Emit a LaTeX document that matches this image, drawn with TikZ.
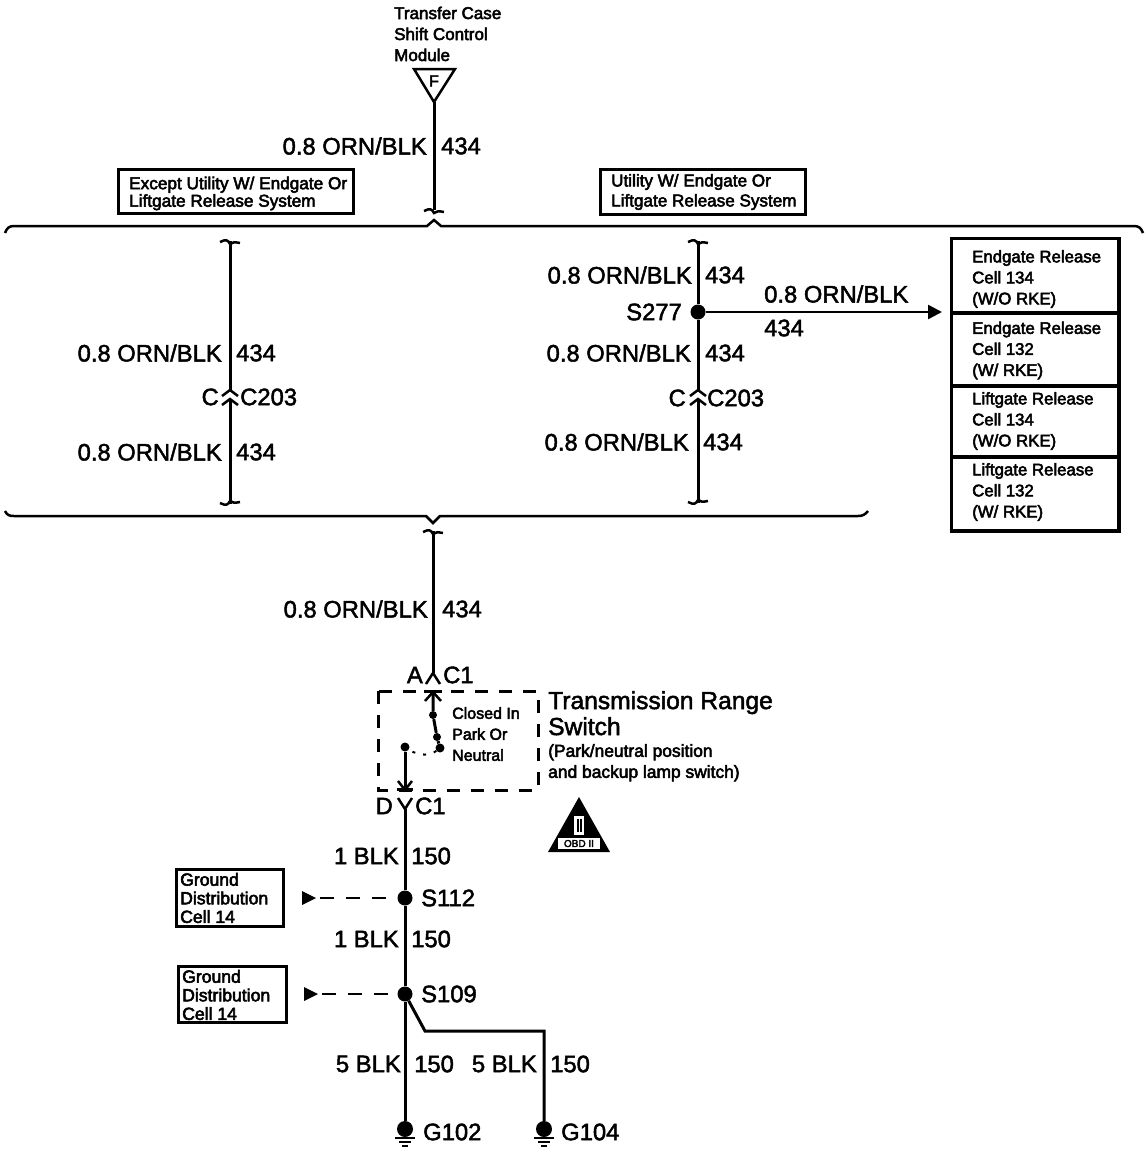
\documentclass[tikz,border=0pt]{standalone}
\usepackage{fontspec}
\setmainfont{Liberation Sans}
\newfontfamily\heavyf[FakeBold=3]{Liberation Sans}
\newfontfamily\bigf[FakeBold=2]{Liberation Sans}
\usetikzlibrary{arrows.meta,calc}
\tikzset{
 wire/.style={line width=3pt},
 big/.style={font=\bigf\fontsize{23.8}{24}\selectfont,inner sep=0pt},
 tiny/.style={font=\heavyf\fontsize{17}{21}\selectfont,inner sep=0pt,align=left},
 framebox/.style={draw,line width=3.5pt,rectangle,anchor=north west,inner sep=0pt,outer sep=0pt},
 gtext/.style={font=\heavyf\fontsize{17.6}{18.6}\selectfont,align=left,inner sep=0pt,anchor=west},
 stext/.style={font=\heavyf\fontsize{17.1}{20}\selectfont,align=left,inner sep=0pt,anchor=west},
 ctext/.style={font=\heavyf\fontsize{16.8}{21}\selectfont,align=left,inner sep=0pt,anchor=west},
 splice/.style={circle,fill=black,inner sep=0pt,minimum size=15pt},
 tinydot/.style={circle,fill=black,inner sep=0pt,minimum size=9pt},
 dashline/.style={line width=2.5pt,dash pattern=on 14pt off 12pt,dash phase=8pt},
 arrowhd/.style={-{Triangle[length=14pt,width=14pt]}},
}
\newcommand{\breakmark}[3]{% x, y, dir
 \draw[line width=2.5pt] (#1-10,#2+#3*1) .. controls (#1-4,#2-#3*2) and (#1-2,#2-#3*1) .. (#1,#2+#3*3) .. controls (#1+2,#2+#3*1) and (#1+5,#2+#3*1) .. (#1+10,#2+#3*2);}
\newcommand{\gndmark}[1]{%
 \draw[line width=2pt] ($(#1)+(-10,9)$) -- ($(#1)+(10,9)$);
 \draw[line width=1.6pt] ($(#1)+(-6,13)$) -- ($(#1)+(6,13)$);
 \draw[line width=1.6pt] ($(#1)+(-3,17)$) -- ($(#1)+(3,17)$);}
\begin{document}
\begin{tikzpicture}[x=1pt,y=-1pt]
\useasboundingbox (0,0) rectangle (1148,1168);
% top module
\node[tiny,anchor=north west] (tcm) at (394,6.5) {Transfer Case\\Shift Control\\Module};
\coordinate (tl) at (414,69); \coordinate (tr) at (455,69); \coordinate (tip) at (434,102);
\draw[line width=2.5pt,line join=miter] (tl) -- (tr) -- (tip) -- cycle;
\node[font=\heavyf\fontsize{16}{16}\selectfont,inner sep=0pt] (fpin) at (434,81) {F};
\coordinate (brkA) at (434,210);
\draw[wire] (tip) -- (brkA);
\breakmark{434}{210}{1}
\node[big,anchor=east] (l1) at (427,146) {0.8 ORN/BLK};
\node[big,anchor=west] (n1) at (441,146) {434};
% option boxes
\node[framebox,minimum width=235pt,minimum height=44pt] (optA) at (118.5,169.5) {};
\node[stext,font=\heavyf\fontsize{17.2}{17.5}\selectfont] (optAt) at (129,193.5) {Except Utility W/ Endgate Or\\Liftgate Release System};
\node[framebox,minimum width=205pt,minimum height=45pt] (optB) at (600.5,169.5) {};
\node[stext] (optBt) at (611,192) {Utility W/ Endgate Or\\Liftgate Release System};
% brackets
\draw[line width=2.5pt] (5,233) .. controls (7,228) and (9,226) .. (14,226) -- (427,226) -- (434,220) -- (441,226) -- (1134,226) .. controls (1139,226) and (1141,228) .. (1143,233);
\draw[line width=2.5pt] (5,511) .. controls (7,515) and (9,516) .. (14,516) -- (426,516) -- (433,523) -- (440,516) -- (858,516) .. controls (862,516) and (865,515) .. (868,511);
% left wire
\coordinate (lt) at (230,241); \coordinate (lc1) at (230,390); \coordinate (lc2) at (230,399); \coordinate (lb) at (230,504);
\draw[wire] (lt) -- (lc1); \draw[wire] (lc2) -- (lb);
\draw[line width=2.5pt] (222,396) -- (lc1) -- (238,396);
\draw[line width=2.5pt] (222,405) -- (lc2) -- (238,405);
\breakmark{230}{241}{1}\breakmark{230}{504}{-1}
\node[big,anchor=east] (l2) at (222,353) {0.8 ORN/BLK};
\node[big,anchor=west] (n2) at (236,353) {434};
\node[big,anchor=east] (l3) at (222,452) {0.8 ORN/BLK};
\node[big,anchor=west] (n3) at (236,452) {434};
\node[big,anchor=east] (cc1) at (219,397) {C};
\node[big,anchor=west] (cc2) at (240,397) {C203};
% right wire
\node[splice] (s277) at (698,312) {};
\coordinate (rt) at (698,241); \coordinate (rc1) at (698,390); \coordinate (rc2) at (698,399); \coordinate (rb) at (698,503);
\draw[wire] (rt) -- (s277) -- (rc1); \draw[wire] (rc2) -- (rb);
\draw[line width=2.5pt] (690,396) -- (rc1) -- (706,396);
\draw[line width=2.5pt] (690,405) -- (rc2) -- (706,405);
\breakmark{698}{241}{1}\breakmark{698}{503}{-1}
\node[big,anchor=east] (l4) at (692,275) {0.8 ORN/BLK};
\node[big,anchor=west] (n4) at (705,275) {434};
\node[big,anchor=east] (s277l) at (682,312) {S277};
\node[big,anchor=east] (l5) at (691,353) {0.8 ORN/BLK};
\node[big,anchor=west] (n5) at (705,353) {434};
\node[big,anchor=east] (cc3) at (686,398) {C};
\node[big,anchor=west] (cc4) at (707,398) {C203};
\node[big,anchor=east] (l6) at (689,442) {0.8 ORN/BLK};
\node[big,anchor=west] (n6) at (703,442) {434};
\node[big,anchor=west] (l7) at (764,294) {0.8 ORN/BLK};
\node[big,anchor=west] (n7) at (764,328) {434};
\coordinate (arrowTip) at (942,312);
\draw[line width=2.5pt,arrowhd] (s277) -- (arrowTip);
% cell boxes
\node[framebox,minimum width=167.5pt,minimum height=74.5pt] (c1) at (951.5,238.5) {};
\node[framebox,minimum width=167.5pt,minimum height=73pt] (c2) at (951.5,313) {};
\node[framebox,minimum width=167.5pt,minimum height=71pt] (c3) at (951.5,386) {};
\node[framebox,minimum width=167.5pt,minimum height=74pt] (c4) at (951.5,457) {};
\node[ctext] (c1t) at (972,279) {Endgate Release\\Cell 134\\(W/O RKE)};
\node[ctext] (c2t) at (972,350.5) {Endgate Release\\Cell 132\\(W/ RKE)};
\node[ctext] (c3t) at (972,421) {Liftgate Release\\Cell 134\\(W/O RKE)};
\node[ctext] (c4t) at (972,492) {Liftgate Release\\Cell 132\\(W/ RKE)};
% lower wire
\coordinate (lwt) at (433,531); \coordinate (lwb) at (433,673);
\draw[wire] (lwt) -- (lwb);
\breakmark{433}{531}{1}
\draw[line width=2.5pt] (426,684) -- (lwb) -- (440,684);
\node[big,anchor=east] (l8) at (428,609) {0.8 ORN/BLK};
\node[big,anchor=west] (n8) at (442,609) {434};
\node[big,anchor=east] (pA) at (423,675) {A};
\node[big,anchor=west] (pC1) at (443,675) {C1};
% switch
\draw[line width=3pt,dash pattern=on 13pt off 11pt] (378,691) rectangle (538,790);
\node[tinydot,minimum size=8pt] (sw1) at (433,715) {};
\node[tinydot,minimum size=8pt] (sw2) at (437,737) {};
\node[tinydot] (sw3) at (440,748) {};
\node[tinydot] (sw4) at (405,747) {};
\coordinate (swTop) at (433,692);
\coordinate (swBot) at (405,790);
\draw[wire] (swTop) -- (sw1) -- (sw2) -- (sw3);
\draw[wire] (sw4) -- (swBot);
\draw[line width=3pt] (424,691) -- (442,691);
\draw[line width=2.5pt] (425,701) -- (swTop) -- (441,701);
\draw[line width=3pt] (397,789) -- (413,789);
\draw[line width=2.5pt] (398,781) -- (swBot) -- (412,781);
\draw[line width=2pt,dash pattern=on 3pt off 8pt] (sw3) .. controls (431,755) and (420,757) .. (sw4);
\node[tiny,anchor=north west,font=\heavyf\fontsize{16}{21}\selectfont] (closed) at (452,707) {Closed In\\Park Or\\Neutral};
\node[anchor=north west,inner sep=0pt,align=left,font=\bigf\fontsize{24.6}{26}\selectfont] (trs) at (548,691) {Transmission Range\\Switch};
\node[tiny,anchor=north west,font=\heavyf\fontsize{17.4}{21}\selectfont] (pn) at (548,744) {(Park/neutral position\\and backup lamp switch)};
% OBD triangle
\coordinate (oa) at (579,797); \coordinate (ob) at (548,852); \coordinate (oc) at (610,852);
\fill (oa) -- (ob) -- (oc) -- cycle;
\fill[white] (574,816) rectangle (584,835);
\fill (577,819) rectangle (579,832); \fill (580,819) rectangle (582,832);
\fill[white] (558,838) rectangle (600,849);
\node[font=\heavyf\fontsize{10}{10}\selectfont,inner sep=0pt] (obd) at (579,843.5) {OBD II};
% bottom wire
\coordinate (dfork) at (405,809);
\draw[line width=2.5pt] (398,798) -- (dfork) -- (412,798);
\node[splice] (s112) at (405,898) {};
\node[splice] (s109) at (405,994) {};
\node[splice,minimum size=16pt] (g102) at (405,1129) {};
\node[splice,minimum size=16pt] (g104) at (544,1129) {};
\coordinate (bend1) at (425,1031); \coordinate (bend2) at (544,1031);
\draw[wire] (dfork) -- (s112) -- (s109) -- (g102);
\draw[wire] (s109) -- (bend1) -- (bend2) -- (g104);
\gndmark{g102}\gndmark{g104}
\node[big,anchor=east] (w1) at (399,856) {1 BLK};
\node[big,anchor=west] (w1n) at (411,856) {150};
\node[big,anchor=east] (w2) at (399,939) {1 BLK};
\node[big,anchor=west] (w2n) at (411,939) {150};
\node[big,anchor=west] (s112l) at (421,898) {S112};
\node[big,anchor=west] (s109l) at (421,994) {S109};
\node[big,anchor=east] (pD) at (393,806) {D};
\node[big,anchor=west] (pC2) at (415,806) {C1};
\node[big,anchor=east] (w3) at (401,1064) {5 BLK};
\node[big,anchor=west] (w3n) at (414,1064) {150};
\node[big,anchor=east] (w4) at (537,1064) {5 BLK};
\node[big,anchor=west] (w4n) at (550,1064) {150};
\node[big,anchor=west] (g102l) at (423,1132) {G102};
\node[big,anchor=west] (g104l) at (561,1132) {G104};
% ground boxes
\node[framebox,minimum width=107pt,minimum height=57pt] (gd1) at (176.5,869.5) {};
\node[gtext] (gd1t) at (180,898) {Ground\\Distribution\\Cell 14};
\node[framebox,minimum width=108pt,minimum height=56pt] (gd2) at (178.5,966.5) {};
\node[gtext] (gd2t) at (182,995) {Ground\\Distribution\\Cell 14};
\coordinate (a1) at (302,898); \coordinate (a2) at (304,994);
\fill ($(a1)+(0,-7)$) -- ($(a1)+(14,0)$) -- ($(a1)+(0,7)$) -- cycle;
\fill ($(a2)+(0,-7)$) -- ($(a2)+(14,0)$) -- ($(a2)+(0,7)$) -- cycle;
\draw[dashline] (a1) -- (s112);
\draw[dashline] (a2) -- (s109);
\end{tikzpicture}
\end{document}
